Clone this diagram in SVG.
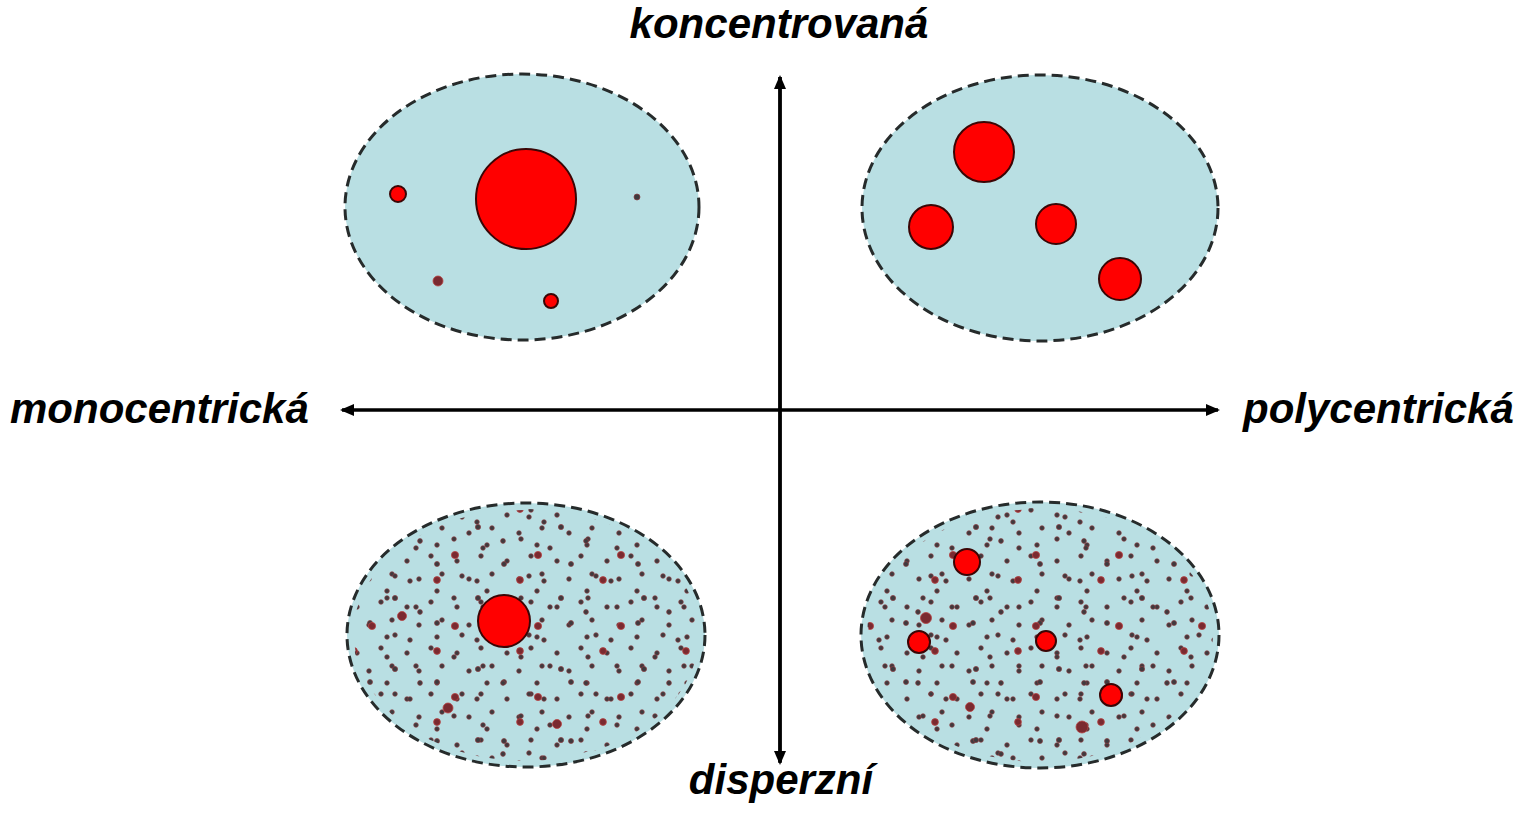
<svg xmlns="http://www.w3.org/2000/svg" width="1526" height="829" viewBox="0 0 1526 829">
<style>
.area{fill:#b9dfe3;stroke:#262b2b;stroke-width:3;stroke-dasharray:11 6}
.city{fill:#ff0000;stroke:#3a0505;stroke-width:2}
.d{fill:#3e3a3e;stroke:#8a3a3e;stroke-width:0.7}
.dr{fill:#7a2a30;stroke:#b84040;stroke-width:0.8}
.lbl{font-family:"Liberation Sans",Arial,sans-serif;font-weight:bold;font-style:italic;font-size:42px;fill:#000}
.axis{stroke:#000;stroke-width:3.4;fill:none}
</style>
<defs>
<marker id="ah" markerWidth="14" markerHeight="12" refX="12" refY="6" orient="auto" markerUnits="userSpaceOnUse">
<path d="M0,0 L14,6 L0,12 Z" fill="#000"/>
</marker>
<pattern id="pa" patternUnits="userSpaceOnUse" width="50" height="46">
<circle class="d" cx="7" cy="9" r="2.3"/><circle class="d" cx="31" cy="4" r="2.3"/><circle class="d" cx="19" cy="27" r="2.3"/><circle class="d" cx="42" cy="22" r="2.3"/><circle class="d" cx="37" cy="39" r="2.3"/>
</pattern>
<pattern id="pb" patternUnits="userSpaceOnUse" width="67" height="59">
<circle class="d" cx="14" cy="17" r="2.3"/><circle class="d" cx="52" cy="8" r="2.3"/><circle class="d" cx="35" cy="33" r="2.5"/><circle class="d" cx="60" cy="45" r="2.3"/><circle class="d" cx="8" cy="50" r="2.3"/>
</pattern>
<pattern id="pc" patternUnits="userSpaceOnUse" width="83" height="71">
<circle class="dr" cx="22" cy="12" r="3.4"/><circle class="d" cx="63" cy="30" r="2.6"/><circle class="dr" cx="40" cy="58" r="3.6"/><circle class="d" cx="5" cy="44" r="2.4"/>
</pattern>
</defs>

<g id="connectors">
<line class="axis" x1="780" y1="762" x2="780" y2="77" marker-end="url(#ah)"/>
<line class="axis" x1="780" y1="77" x2="780" y2="763" marker-end="url(#ah)"/>
<line class="axis" x1="780" y1="410" x2="342" y2="410" marker-end="url(#ah)"/>
<line class="axis" x1="780" y1="410" x2="1218" y2="410" marker-end="url(#ah)"/>
</g>

<g id="mono-concentrated">
<ellipse class="area" cx="522" cy="207" rx="177" ry="133"/>
<circle class="city" cx="526" cy="199" r="50"/>
<circle class="city" cx="398" cy="194" r="8"/>
<circle class="dr" cx="438" cy="281" r="5"/>
<circle class="city" cx="551" cy="301" r="7"/>
<circle class="d" cx="637" cy="197" r="3"/>
</g>

<g id="poly-concentrated">
<ellipse class="area" cx="1040" cy="208" rx="178" ry="133"/>
<circle class="city" cx="984" cy="152" r="30"/>
<circle class="city" cx="931" cy="227" r="22"/>
<circle class="city" cx="1056" cy="224" r="20"/>
<circle class="city" cx="1120" cy="279" r="21"/>
</g>

<g id="mono-dispersed">
<ellipse class="area" cx="526" cy="635" rx="179" ry="132"/>
<ellipse cx="526" cy="635" rx="173" ry="126" fill="url(#pa)"/>
<ellipse cx="526" cy="635" rx="173" ry="126" fill="url(#pb)"/>
<ellipse cx="526" cy="635" rx="172" ry="125" fill="url(#pc)"/>
<circle class="dr" cx="448" cy="708" r="5"/>
<circle class="dr" cx="557" cy="724" r="4.5"/>
<circle class="dr" cx="402" cy="616" r="4.5"/>
<circle class="city" cx="504" cy="621" r="26"/>
</g>

<g id="poly-dispersed">
<ellipse class="area" cx="1040" cy="635" rx="179" ry="133"/>
<ellipse cx="1040" cy="635" rx="173" ry="127" fill="url(#pa)"/>
<ellipse cx="1040" cy="635" rx="173" ry="127" fill="url(#pb)"/>
<ellipse cx="1040" cy="635" rx="172" ry="126" fill="url(#pc)"/>
<circle class="dr" cx="1082" cy="727" r="6"/>
<circle class="dr" cx="926" cy="618" r="5.5"/>
<circle class="dr" cx="970" cy="707" r="4.5"/>
<circle class="city" cx="967" cy="562" r="13"/>
<circle class="city" cx="919" cy="642" r="11"/>
<circle class="city" cx="1046" cy="641" r="10"/>
<circle class="city" cx="1111" cy="695" r="11"/>
</g>

<g id="labels">
<text class="lbl" x="779" y="38" text-anchor="middle">koncentrovaná</text>
<text class="lbl" x="10" y="423">monocentrická</text>
<text class="lbl" x="1243" y="423">polycentrická</text>
<text class="lbl" x="781" y="794" text-anchor="middle">disperzní</text>
</g>
</svg>
